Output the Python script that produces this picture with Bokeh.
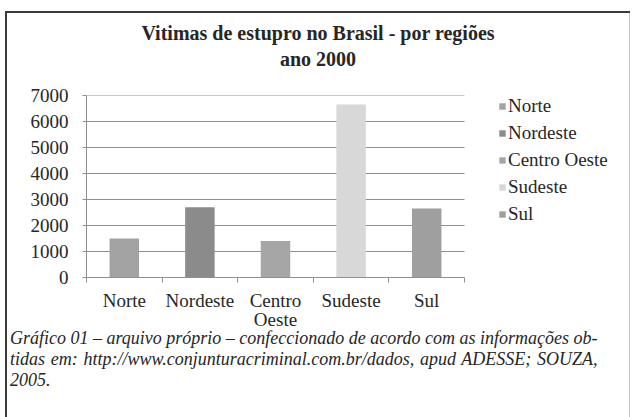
from bokeh.plotting import figure
from bokeh.models import (ColumnDataSource, Range1d, FixedTicker, LinearAxis,
                          Legend, LegendItem, Div)
from bokeh.layouts import column
from bokeh.embed import file_html
from bokeh.resources import INLINE

# ---- data ----
regions = ["Norte", "Nordeste", "Centro Oeste", "Sudeste", "Sul"]
victims = [1500, 2700, 1400, 6650, 2650]
bar_colors = ["#a3a3a3", "#8b8b8b", "#a6a6a6", "#d8d8d8", "#9f9f9f"]
x_tick_labels = ["Norte", "Nordeste", "Centro\nOeste", "Sudeste", "Sul"]
y_ticks = [0, 1000, 2000, 3000, 4000, 5000, 6000, 7000]
title_lines = ["Vitimas de estupro no Brasil - por regiões", "ano 2000"]
caption_lines = [
    "Gráfico 01 – arquivo próprio – confeccionado de acordo com as informações ob-",
    "tidas em: http://www.conjunturacriminal.com.br/dados, apud ADESSE; SOUZA,",
    "2005.",
]

FONT = "Liberation Serif"
TXT = "#262626"
GRID = "#8f8f8f"

n = len(regions)
x_pos = [i + 0.5 for i in range(n)]          # category centres
x_bounds = [i for i in range(n + 1)]         # category boundaries

# layout: the bar area is 378 px wide; the frame extends right to hold the legend
FIG_W, LEFT, RIGHT, BAR_AREA = 632, 86, 10, 378
x_end = n * (FIG_W - LEFT - RIGHT) / BAR_AREA

src = ColumnDataSource(dict(x=x_pos, region=regions, victims=victims, color=bar_colors))
grid_src = ColumnDataSource(dict(y=y_ticks, x0=[0] * len(y_ticks), x1=[n] * len(y_ticks)))

# ---- title ----
title = Div(text="<br>".join(title_lines), width=628, height=52, margin=(20, 0, 0, 4),
            styles={"font-family": FONT, "font-weight": "bold", "font-size": "20px",
                    "line-height": "26px", "text-align": "center", "color": TXT})

# ---- chart ----
p = figure(width=FIG_W, height=261, output_backend="svg", toolbar_location=None,
           x_range=Range1d(0, x_end), y_range=Range1d(0, 7000),
           x_axis_location=None, y_axis_location="left",
           min_border_left=LEFT, min_border_right=RIGHT, min_border_top=23, min_border_bottom=56)
p.outline_line_color = None
p.background_fill_color = None
p.border_fill_color = None
p.xgrid.grid_line_color = None
p.ygrid.grid_line_color = None

# horizontal gridlines over the bar area only
p.segment(x0="x0", x1="x1", y0="y", y1="y", source=grid_src, line_color=GRID, line_width=1)

yax = p.yaxis[0]
yax.ticker = FixedTicker(ticks=y_ticks)
yax.axis_line_color = GRID
yax.major_tick_line_color = GRID
yax.major_tick_out = 4
yax.major_tick_in = 0
yax.minor_tick_line_color = None
yax.major_label_standoff = 14
yax.major_label_text_font = FONT
yax.major_label_text_font_size = "19px"
yax.major_label_text_color = TXT

tick_axis = LinearAxis(ticker=FixedTicker(ticks=x_bounds), bounds=(0, n),
                       axis_line_color=GRID, major_tick_line_color=GRID,
                       major_tick_out=5, major_tick_in=0, minor_tick_line_color=None,
                       major_label_overrides={b: "" for b in x_bounds},
                       major_label_text_font_size="1px", major_label_standoff=0)
p.add_layout(tick_axis, "below")

lab_axis = LinearAxis(ticker=FixedTicker(ticks=x_pos), bounds=(0, n),
                      axis_line_color=None, major_tick_line_color=None, minor_tick_line_color=None,
                      major_label_overrides={x: t for x, t in zip(x_pos, x_tick_labels)},
                      major_label_standoff=1, major_label_text_font=FONT,
                      major_label_text_font_size="19px", major_label_text_color=TXT,
                      major_label_text_line_height=0.95)
p.add_layout(lab_axis, "below")

bars = p.vbar(x="x", top="victims", width=0.39, source=src, fill_color="color",
              line_color=None)

items = [LegendItem(label=r, renderers=[bars], index=i) for i, r in enumerate(regions)]
leg = Legend(items=items, location=(412, 52), orientation="vertical",
             glyph_width=8, glyph_height=8, label_height=20, spacing=5,
             padding=0, margin=0, label_standoff=2,
             border_line_color=None, background_fill_alpha=0,
             label_text_font=FONT, label_text_font_size="19px", label_text_color=TXT)
p.add_layout(leg, "center")

# ---- caption, justified like the source document ----
cap_html = "".join(
    f'<div style="text-align:justify;text-align-last:justify;white-space:nowrap">{line}</div>'
    for line in caption_lines[:-1]
) + f'<div>{caption_lines[-1]}</div>'
caption = Div(text=cap_html, width=603, height=89, margin=(-5, 19, 0, 10),
              styles={"font-family": FONT, "font-style": "italic", "font-size": "18px",
                      "line-height": "21px", "color": TXT})

layout = column(title, p, caption, spacing=0)
layout.styles = {
    "background": ("linear-gradient(#3a3a3a,#3a3a3a) 5px 11px / 2px 406px no-repeat, "
                   "linear-gradient(#3a3a3a,#3a3a3a) 5px 11px / 625px 2px no-repeat, "
                   "linear-gradient(#c4c4c4,#c4c4c4) 629px 11px / 1px 406px no-repeat, "
                   "white"),
}

open("out.html", "w").write(file_html(layout, INLINE))
